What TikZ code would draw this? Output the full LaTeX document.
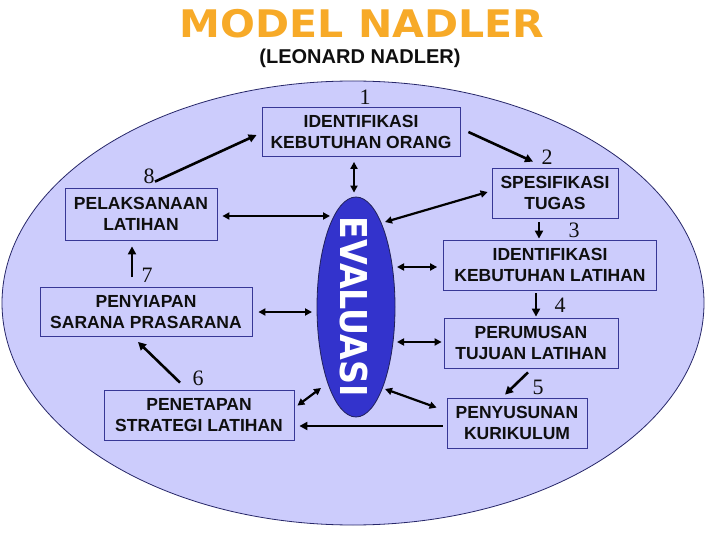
\documentclass[tikz,border=0pt]{standalone}
\usepackage{fontspec}
\setmainfont{Liberation Sans}
\newfontfamily\numfont{Liberation Serif}
\newfontfamily\titlefont{DejaVu Sans}
\usetikzlibrary{arrows.meta,calc,shapes.geometric}
\definecolor{bgfill}{RGB}{204,204,252}
\definecolor{boxline}{RGB}{55,55,150}
\definecolor{evfill}{RGB}{51,51,204}
\definecolor{titleorange}{RGB}{247,170,40}
\definecolor{ink}{RGB}{15,15,15}
\begin{document}
\begin{tikzpicture}[x=1pt,y=-1pt,
  box/.style={draw=boxline, line width=0.8pt, fill=bgfill, rectangle, align=center,
    inner sep=0pt, text=ink, font=\bfseries\fontsize{17.5}{21}\selectfont},
  num/.style={inner sep=0pt, text=ink, font=\numfont\fontsize{22}{22}\selectfont},
  arr/.style={line width=2.6pt, -{Triangle[length=8pt,width=8pt]}},
  darr/.style={line width=2.2pt, {Triangle[length=7pt,width=7pt]}-{Triangle[length=7pt,width=7pt]}}]
\useasboundingbox (0,0) rectangle (720,540);
\fill[white] (0,0) rectangle (720,540);
% big background ellipse
\draw[fill=bgfill, draw=boxline!70!black, line width=0.8pt] (353,303) ellipse [x radius=351, y radius=222];
% titles
\node[inner sep=0pt, text=titleorange, font=\titlefont\bfseries\fontsize{38}{38}\selectfont] (title) at (362,24) {\scalebox{1.08}[1]{MODEL NADLER}};
\node[inner sep=0pt, text=ink, font=\bfseries\fontsize{20}{20}\selectfont] (subtitle) at (360,58) {(LEONARD NADLER)};
% evaluasi
\node[ellipse, draw=boxline!60!black, line width=0.8pt, fill=evfill, minimum width=78pt, minimum height=220pt, inner sep=0pt] (ev) at (356,307) {};
\node[rotate=-90, inner sep=0pt, text=white, font=\titlefont\bfseries\fontsize{37}{37}\selectfont] (evtext) at (354,307) {\scalebox{0.9}[1]{EVALUASI}};
% boxes
\node[box, minimum width=198pt, minimum height=49pt] (n1) at (361,132) {IDENTIFIKASI\\KEBUTUHAN ORANG};
\node[box, minimum width=126pt, minimum height=50pt] (n2) at (555,193) {SPESIFIKASI\\TUGAS};
\node[box, minimum width=213pt, minimum height=50pt] (n3) at (550,265) {IDENTIFIKASI\\KEBUTUHAN LATIHAN};
\node[box, minimum width=174pt, minimum height=50pt] (n4) at (531,343) {PERUMUSAN\\TUJUAN LATIHAN};
\node[box, minimum width=140pt, minimum height=50pt] (n5) at (517,423) {PENYUSUNAN\\KURIKULUM};
\node[box, minimum width=190pt, minimum height=50pt] (n6) at (199,415) {PENETAPAN\\STRATEGI LATIHAN};
\node[box, minimum width=212pt, minimum height=49pt] (n7) at (146,312) {PENYIAPAN\\SARANA PRASARANA};
\node[box, minimum width=152pt, minimum height=52pt] (n8) at (141,214) {PELAKSANAAN\\LATIHAN};
% numbers
\node[num] (k1) at (365,97) {1};
\node[num] (k2) at (547,157) {2};
\node[num] (k3) at (574,230) {3};
\node[num] (k4) at (560,305) {4};
\node[num] (k5) at (538,387) {5};
\node[num] (k6) at (198,378) {6};
\node[num] (k7) at (147,275) {7};
\node[num] (k8) at (149,176) {8};
% cycle arrows
\draw[arr] ($(n1.east)+(8,0)$) -- ($(n2.north)+(-22,-6)$);
\draw[arr] ($(n2.south)+(-16,4)$) -- ($(n3.north)+(-11,-1)$);
\draw[arr] ($(n3.south)+(-14,3)$) -- ($(n4.north)+(5,-1)$);
\draw[arr] ($(n4.south)+(-3,4)$) -- ($(n5.north)+(-12,-3)$);
\draw[arr] ($(n5.west)+(-4,3)$) -- ($(n6.east)+(5,11)$);
\draw[arr] ($(n6.north)+(-19,-7)$) -- ($(n7.south)+(-8,5)$);
\draw[arr] ($(n7.north)+(-14,-10)$) -- ($(n8.south)+(-9,6)$);
\draw[arr] ($(n8.north)+(14,-6)$) -- ($(n1.west)+(-5,3)$);
% evaluation arrows
\draw[darr] ($(n1.south)+(-7,5)$) -- ($(ev.north)+(-2,-4)$);
\draw[darr] ($(n8.east)+(5,2)$) -- ($(ev.center)+(-26,-91)$);
\draw[darr] ($(n2.west)+(-4,-1)$) -- ($(ev.center)+(29,-85)$);
\draw[darr] ($(n3.west)+(-6,2)$) -- ($(ev.center)+(41,-40)$);
\draw[darr] ($(n7.east)+(6,0)$) -- ($(ev.center)+(-44,5)$);
\draw[darr] ($(n4.west)+(-2,-1)$) -- ($(ev.center)+(41,35)$);
\draw[darr] ($(n6.north east)+(3,16)$) -- ($(ev.center)+(-35,81)$);
\draw[darr] ($(n5.north west)+(-10,10)$) -- ($(ev.center)+(29,82)$);
\end{tikzpicture}
\end{document}
